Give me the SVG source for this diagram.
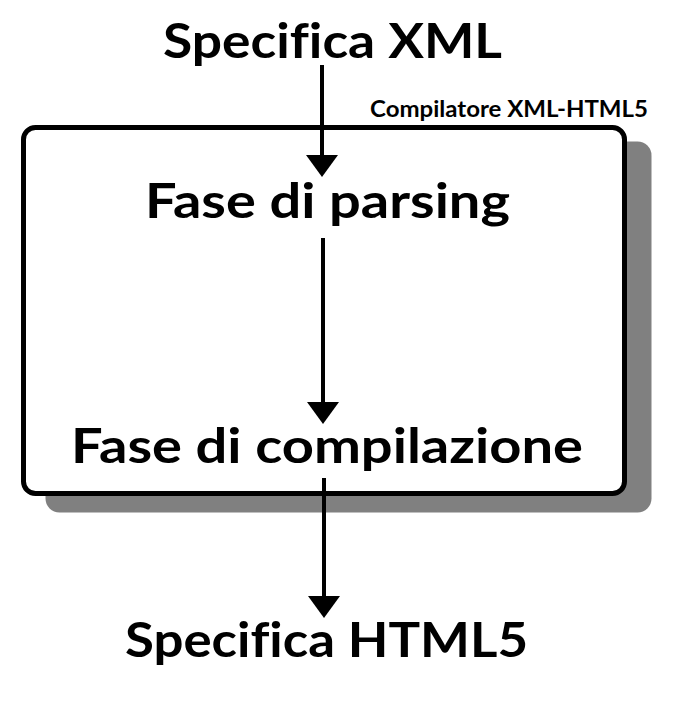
<svg xmlns="http://www.w3.org/2000/svg" width="697" height="705" viewBox="0 0 697 705">
<style>
.big{font-family:Lato,"Open Sans",sans-serif;font-weight:bold;font-size:48px;fill:#000;font-variant-ligatures:none}
.small{font-family:Lato,"Open Sans",sans-serif;font-weight:bold;font-size:23px;fill:#000;font-variant-ligatures:none}
.ln{stroke:#000;stroke-width:4;fill:none}
.hd{fill:#000}
</style>
<rect width="697" height="705" fill="#fff"/>
<g id="compilatore">
<rect x="45.5" y="141.5" width="606" height="371" rx="14" fill="#808080"/>
<rect x="23.5" y="127.5" width="601" height="366" rx="12" fill="#fff" stroke="#000" stroke-width="5"/>
<text class="small" x="370" y="116.5" textLength="278" lengthAdjust="spacingAndGlyphs">Compilatore XML-HTML5</text>
</g>
<g id="specifica-xml"><text class="big" x="163" y="58" textLength="339" lengthAdjust="spacingAndGlyphs">Specifica XML</text></g>
<g id="parsing"><text class="big" x="145" y="218" textLength="365" lengthAdjust="spacingAndGlyphs">Fase di parsing</text></g>
<g id="compilazione"><text class="big" x="71" y="463" textLength="512" lengthAdjust="spacingAndGlyphs">Fase di compilazione</text></g>
<g id="specifica-html5"><text class="big" x="125" y="657" textLength="403" lengthAdjust="spacingAndGlyphs">Specifica HTML5</text></g>
<g id="connectors">
<line class="ln" x1="322" y1="65" x2="322" y2="156"/>
<polygon class="hd" points="306,155 338,155 322,177"/>
<line class="ln" x1="323" y1="238" x2="323" y2="403"/>
<polygon class="hd" points="307,402 339,402 323,424"/>
<line class="ln" x1="324" y1="478" x2="324" y2="597"/>
<polygon class="hd" points="308,596 340,596 324,618"/>
</g>
</svg>
